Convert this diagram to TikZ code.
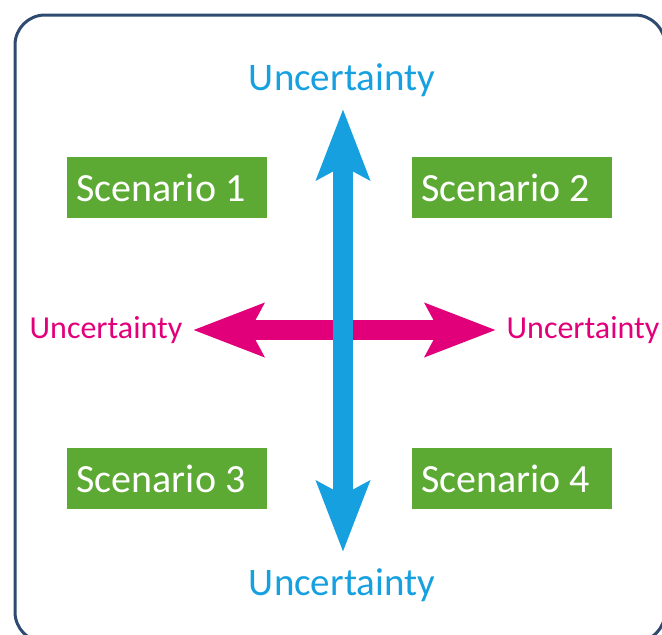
\documentclass[tikz,border=0pt]{standalone}
\usepackage{fontspec}
\setmainfont{Carlito}
\usepackage{tikz}
\usetikzlibrary{%
  arrows.meta,
  positioning
}

\definecolor{framenavy}{HTML}{2E4A70}
\definecolor{scengreen}{HTML}{5CAA33}
\definecolor{axisblue}{HTML}{16A0E0}
\definecolor{axispink}{HTML}{E2007A}

\tikzset{
  frame/.style={draw=framenavy, line width=3pt, rounded corners=30pt},
  scenario/.style={fill=scengreen, text=white, minimum width=200pt,
                   minimum height=61pt, inner sep=0pt,
                   font=\fontsize{40}{42}\selectfont},
  bluelabel/.style={text=axisblue, inner sep=0pt, font=\fontsize{39}{42}\selectfont},
  pinklabel/.style={text=axispink, inner sep=0pt, font=\fontsize{32}{35}\selectfont},
  bigarrow/.style={line width=20pt,
                   arrows={Stealth[length=70pt, width=52pt, inset=13pt]-Stealth[length=70pt, width=52pt, inset=13pt]}}
}

\begin{document}
\begin{tikzpicture}[x=1pt, y=-1pt]
  \useasboundingbox (0,0) rectangle (662,635);

  % outer frame (runs past the right and bottom edge)
  \draw [frame] (15,15) rectangle (665,642);

  % scenario boxes (text sits a bit left of centre)
  \node [scenario] (scen1) at (167,187.5) {Scenario 1\kern12pt};
  \node [scenario] (scen2) at (511.5,187.5) {Scenario 2\kern12pt};
  \node [scenario] (scen3) at (167,478.5) {Scenario 3\kern12pt};
  \node [scenario] (scen4) at (511.5,478.5) {Scenario 4\kern12pt};

  % axis ends
  \coordinate (vtop) at (343,109);
  \coordinate (vbot) at (343,552);
  \coordinate (hleft) at (193,330);
  \coordinate (hright) at (496,330);

  % axis labels
  \node [bluelabel] (labtop) at (342,80) {Uncertainty};
  \node [bluelabel] (labbot) at (342,585) {Uncertainty};
  \node [pinklabel] (lableft) at (106,330) {Uncertainty};
  \node [pinklabel] (labright) at (583,330) {Uncertainty};

  % horizontal first, the vertical one sits on top
  \draw [bigarrow, axispink] (hleft) -- (hright);
  \draw [bigarrow, axisblue] (vbot) -- (vtop);

\end{tikzpicture}
\end{document}
